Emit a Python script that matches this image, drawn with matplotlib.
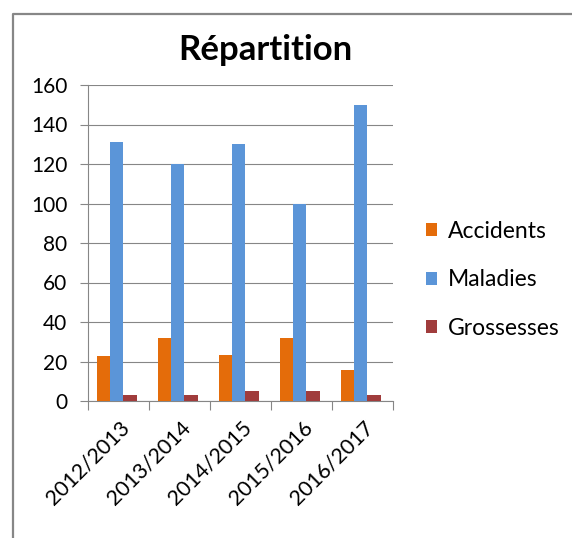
import matplotlib
matplotlib.use("Agg")
import matplotlib.pyplot as plt
import numpy as np
from matplotlib.lines import Line2D
from matplotlib.transforms import ScaledTranslation

seasons = ["2012/2013", "2013/2014", "2014/2015", "2015/2016", "2016/2017"]
accidents = [23, 32, 23.5, 32, 15.5]
maladies = [131, 120, 130, 100, 150]
grossesses = [3, 3, 5, 5, 3]

series = ["Accidents", "Maladies", "Grossesses"]
colors = ["#E46C0A", "#5B95D8", "#A03C3C"]

plt.rcParams["font.family"] = ["Lato", "DejaVu Sans"]

fig = plt.figure(figsize=(5.72, 5.38), dpi=100)
ax = fig.add_axes([88 / 572, 1 - 401 / 538, 305 / 572, 316 / 538])

x = np.arange(len(seasons))
w = 0.22
for i, (name, vals) in enumerate(zip(series, [accidents, maladies, grossesses])):
    ax.bar(x + (i - 1) * w - 0.03, vals, width=w, color=colors[i], label=name, zorder=3)

ax.set_xlim(-0.5, len(seasons) - 0.5)
ax.set_ylim(0, 160)
ax.set_yticks(range(0, 161, 20))
ax.tick_params(axis="y", labelsize=15, length=5.8, color="#868686", pad=9)
ax.yaxis.grid(True, color="#868686", linewidth=0.8)
ax.set_axisbelow(True)

# ticks on category boundaries, labels at centers
ax.set_xticks(np.arange(-0.5, len(seasons)), minor=False)
ax.set_xticklabels([])
ax.set_xticks(x, minor=True)
ax.set_xticklabels(seasons, minor=True, rotation=45, ha="right",
                   rotation_mode="anchor", va="center", fontsize=15.5)
ax.tick_params(axis="x", which="major", length=6.5, color="#868686")
ax.tick_params(axis="x", which="minor", length=0, pad=17)
shift = ScaledTranslation(8 / 100, 0, fig.dpi_scale_trans)
for lab in ax.get_xticklabels(minor=True):
    lab.set_transform(lab.get_transform() + shift)

for s in ["top", "right"]:
    ax.spines[s].set_visible(False)
for s in ["left", "bottom"]:
    ax.spines[s].set_color("#868686")
    ax.spines[s].set_linewidth(0.8)

fig.text(265 / 572, 1 - 50 / 538, "Répartition", fontsize=25, fontweight="bold",
         ha="center", va="center")

ax.legend(loc="center left", bbox_to_anchor=(426 / 572, 1 - 280 / 538),
          bbox_transform=fig.transFigure, frameon=False, borderpad=0,
          borderaxespad=0, fontsize=16.5, handlelength=0.5, handleheight=0.5,
          handletextpad=0.45, labelspacing=1.2)

# chart frame (left and top edges)
fig.add_artist(Line2D([12.5 / 572, 12.5 / 572, 1], [0, 1 - 14 / 538, 1 - 14 / 538],
                      transform=fig.transFigure, color="#878787", linewidth=1.6))

fig.savefig("out.png", dpi=100)
